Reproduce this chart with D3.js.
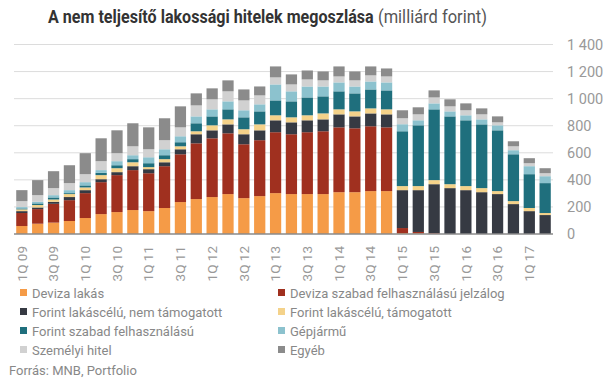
<!DOCTYPE html>
<html><head><meta charset="utf-8">
<script src="https://cdn.jsdelivr.net/npm/d3@7"></script>
<style>body{margin:0;background:#fff;} svg{display:block;font-family:Roboto,"Noto Sans",sans-serif;}</style>
</head><body><svg id="c" width="605" height="378"></svg>
<script>
const quarters = ["1Q 09","2Q 09","3Q 09","4Q 09","1Q 10","2Q 10","3Q 10","4Q 10","1Q 11","2Q 11","3Q 11","4Q 11","1Q 12","2Q 12","3Q 12","4Q 12","1Q 13","2Q 13","3Q 13","4Q 13","1Q 14","2Q 14","3Q 14","4Q 14","1Q 15","2Q 15","3Q 15","4Q 15","1Q 16","2Q 16","3Q 16","4Q 16","1Q 17","2Q 17"];
const devizaLakas   = [59,76,84,96,118,147,162,177,169,192,236,258,273,295,265,280,302,295,295,295,309,309,317,317,7,5,2,0,0,0,0,0,0,0];
const devizaSzabad  = [96,108,139,154,184,236,273,295,280,309,353,412,434,449,398,413,450,442,457,464,479,472,479,471,37,10,5,0,0,0,0,0,0,0];
const forintNemTam  = [14,12,15,23,22,22,22,29,30,29,37,67,59,66,74,73,88,88,88,88,96,88,95,96,280,309,361,339,324,309,295,221,169,140];
const forintTam     = [13,18,17,22,20,30,29,29,15,23,22,22,37,37,37,44,37,37,37,44,37,37,37,37,30,30,30,29,30,30,22,22,23,15];
const forintSzabad  = [7,12,15,7,15,17,22,23,29,29,30,59,66,74,88,96,110,118,132,126,133,133,140,140,405,449,523,501,486,471,449,346,250,221];
const gepjarmu      = [10,12,17,22,24,20,30,29,44,44,44,51,52,59,52,52,118,74,81,73,66,51,59,59,52,37,44,37,37,37,37,30,59,51];
const szemelyi      = [44,49,52,52,59,66,59,66,59,67,66,81,74,74,73,66,52,51,52,45,44,45,45,44,44,44,44,37,37,37,22,29,22,22];
const egyeb         = [81,111,125,132,155,169,169,170,162,162,155,89,81,81,81,66,81,74,66,66,74,66,66,59,59,52,52,52,51,44,44,37,37,37];
const seriesNames = ["Deviza lakás","Deviza szabad felhasználású jelzálog","Forint lakáscélú, nem támogatott","Forint lakáscélú, támogatott","Forint szabad felhasználású","Gépjármű","Személyi hitel","Egyéb"];
const seriesColors = ["#F59B47","#A0301F","#363A43","#F4D28A","#1F6F7D","#8CC2CE","#D1D1D1","#8B8B8B"];
const yTicks = [0,200,400,600,800,1000,1200,1400];
const yTickLabels = ["0","200","400","600","800","1 000","1 200","1 400"];

const seriesData = [devizaLakas,devizaSzabad,forintNemTam,forintTam,forintSzabad,gepjarmu,szemelyi,egyeb];
const rows = quarters.map((q,i)=>{const r={q}; seriesNames.forEach((n,k)=>r[n]=seriesData[k][i]); return r;});
const stack = d3.stack().keys(seriesNames)(rows);

const svg = d3.select("#c");
const x = d3.scaleBand().domain(quarters).range([14,553]).paddingInner(0.29).paddingOuter(0.14);
const y = d3.scaleLinear().domain([0,1400]).range([234,44.5]);

// grid
svg.append("g").selectAll("line").data(yTicks.slice(1)).join("line")
  .attr("x1",14).attr("x2",553).attr("y1",d=>y(d)).attr("y2",d=>y(d))
  .attr("stroke","#dcdcdc").attr("stroke-width",1);

// bars
svg.append("g").selectAll("g").data(stack).join("g").attr("fill",(d,i)=>seriesColors[i])
  .selectAll("rect").data(d=>d).join("rect")
  .attr("x",d=>x(d.data.q)).attr("width",x.bandwidth())
  .attr("y",d=>y(d[1])).attr("height",d=>Math.max(0,y(d[0])-y(d[1])));

// baseline
svg.append("line").attr("x1",14).attr("x2",553).attr("y1",234).attr("y2",234).attr("stroke","#8a8a8a").attr("stroke-width",1.5);

// y axis labels
const yAxis = d3.axisRight(y).tickValues(yTicks).tickFormat((d,i)=>yTickLabels[i]).tickSize(0).tickPadding(0);
const ya = svg.append("g").attr("transform","translate(567,0)").call(yAxis);
ya.select(".domain").remove();
ya.selectAll("text").attr("fill","#999").style("font-size","14.5px").style("font-family","Roboto");

// x axis labels
const xAxis = d3.axisBottom(x).tickValues(quarters.filter((q,i)=>i%2===0)).tickSize(0).tickPadding(0);
const xa = svg.append("g").attr("transform","translate(0,246)").call(xAxis);
xa.select(".domain").remove();
xa.selectAll("text").attr("fill","#999").style("font-size","13.5px").style("font-family","Roboto")
  .attr("text-anchor","end").attr("transform","rotate(-90)").attr("x",0).attr("y",0).attr("dy","0.35em").attr("dx","0");

// title (horizontally condensed via scale transform)
function condensedText(tx, ty, w, txt, weight, fill){
  const g = svg.append("g");
  const t = g.append("text").attr("x",0).attr("y",0).style("font-size","17.5px")
    .attr("font-weight",weight).attr("fill",fill).text(txt);
  const nat = t.node().getComputedTextLength();
  g.attr("transform",`translate(${tx},${ty}) scale(${w/nat},1)`);
}
condensedText(48,23,326,"A nem teljesítő lakossági hitelek megoszlása","bold","#333");
condensedText(378,23,109,"(milliárd forint)","normal","#555");

// legend
const lg = svg.append("g");
seriesNames.forEach((n,i)=>{
  const col=i%2, row=Math.floor(i/2);
  const lx = col===0?20:278, ly = 293+row*19;
  lg.append("rect").attr("x",lx).attr("y",ly-4).attr("width",7).attr("height",7).attr("fill",seriesColors[i]);
  lg.append("text").attr("x",lx+12).attr("y",ly).attr("dy","0.35em").attr("fill","#888").style("font-size","13px").text(n);
});
svg.append("text").attr("x",9).attr("y",370).attr("dy","0.35em").attr("fill","#888").style("font-size","13px").text("Forrás: MNB, Portfolio");
</script></body></html>
